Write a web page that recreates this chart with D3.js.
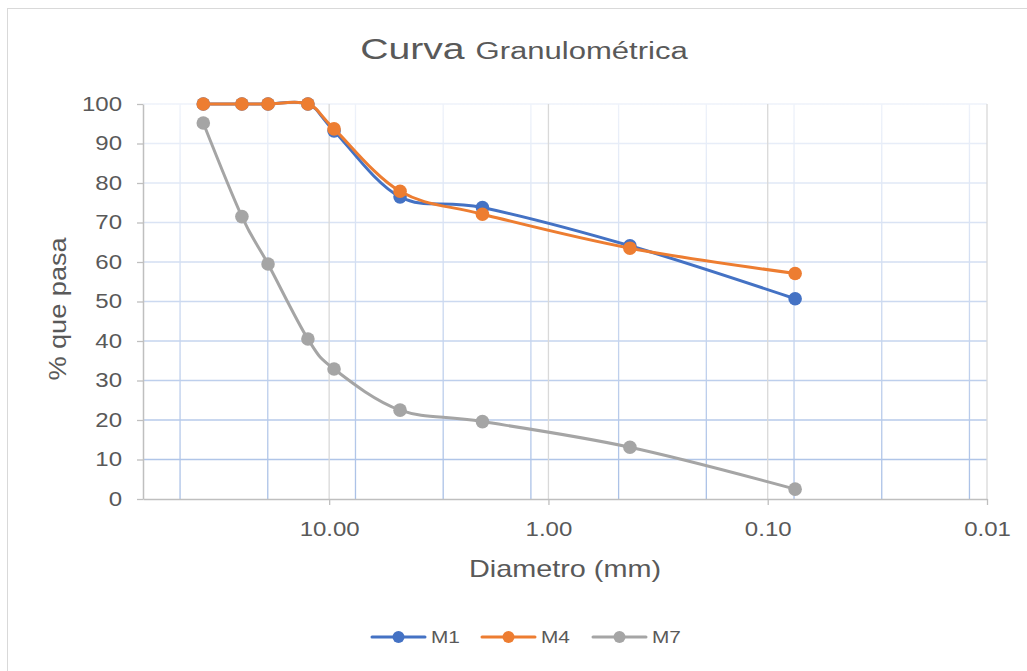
<!DOCTYPE html>
<html><head><meta charset="utf-8">
<script src="https://cdn.jsdelivr.net/npm/d3@7"></script>
<style>body{margin:0;background:#fff;}svg{display:block;font-family:"Liberation Sans",Arial,sans-serif;}</style>
</head><body>
<svg id="c" width="1027" height="671"></svg>
<script>
// ---- data ----
const diameters = [37.5, 25, 19, 12.5, 9.5, 4.75, 2.0, 0.425, 0.075];
const m1 = [100, 100, 100, 100, 93.2, 76.5, 73.8, 64.1, 50.7];
const m4 = [100, 100, 100, 100, 93.7, 77.9, 72.1, 63.5, 57.1];
const m7 = [95.2, 71.5, 59.5, 40.5, 32.9, 22.5, 19.6, 13.1, 2.5];
const seriesNames = ["M1", "M4", "M7"];
const seriesColors = ["#4472c4", "#ed7d31", "#a5a5a5"];
const xTickValues = [10, 1, 0.1, 0.01];
const minorGridExponents = [1.68, 1.28, 0.88, 0.48, 0.08, -0.32, -0.72, -1.12, -1.52, -1.92];
const yTickValues = [0, 10, 20, 30, 40, 50, 60, 70, 80, 90, 100];
const xDomain = [Math.pow(10, 1.849), 0.01];
const yDomain = [0, 100];

const svg = d3.select("#c");
const L = 143, R = 987, T = 104, B = 499;
const x = d3.scaleLog().domain(xDomain).range([L, R]);
const y = d3.scaleLinear().domain(yDomain).range([B, T]);

function stretch(sel, k) {
  sel.each(function () {
    const len = this.getComputedTextLength();
    this.setAttribute("textLength", len * k);
    this.setAttribute("lengthAdjust", "spacingAndGlyphs");
  });
}

// border
svg.append("rect").attr("x", 7.5).attr("y", 8.5).attr("width", 1030).attr("height", 680)
  .attr("fill", "#fff").attr("stroke", "#d9d9d9").attr("stroke-width", 1);

// gradient for blue gridlines
const defs = svg.append("defs");
const g1 = defs.append("linearGradient").attr("id", "gridGrad")
  .attr("gradientUnits", "userSpaceOnUse").attr("x1", 0).attr("y1", T).attr("x2", 0).attr("y2", B);
g1.append("stop").attr("offset", 0).attr("stop-color", "#eef2fa");
g1.append("stop").attr("offset", 1).attr("stop-color", "#a9c0e6");

// title
const title = svg.append("text").attr("x", 524).attr("y", 59).attr("text-anchor", "middle").attr("fill", "#595959");
title.append("tspan").attr("font-size", 29).text("Curva ");
title.append("tspan").attr("font-size", 23).text("Granulométrica");
stretch(title, 1.35);

// horizontal gridlines
svg.append("g").selectAll("line").data(yTickValues.filter(d => d > 0)).join("line")
  .attr("x1", L).attr("x2", R).attr("y1", d => y(d)).attr("y2", d => y(d))
  .attr("stroke", "url(#gridGrad)").attr("stroke-width", 1.3);

// minor vertical gridlines
svg.append("g").selectAll("line").data(minorGridExponents).join("line")
  .attr("x1", d => x(Math.pow(10, d))).attr("x2", d => x(Math.pow(10, d)))
  .attr("y1", T).attr("y2", B)
  .attr("stroke", "url(#gridGrad)").attr("stroke-width", 1.3);

// major vertical gridlines
svg.append("g").selectAll("line").data(xTickValues).join("line")
  .attr("x1", d => x(d)).attr("x2", d => x(d)).attr("y1", T).attr("y2", B)
  .attr("stroke", "#d9d9d9").attr("stroke-width", 1.3);

// axes
const xAxis = d3.axisBottom(x).tickValues(xTickValues).tickFormat(d3.format(".2f")).tickSize(6).tickSizeOuter(0);
const gx = svg.append("g").attr("transform", `translate(0,${B})`).call(xAxis);
gx.select(".domain").attr("stroke", "#bfbfbf").attr("stroke-width", 1.5);
gx.selectAll(".tick line").attr("stroke", "#bfbfbf").attr("stroke-width", 1.3);
gx.selectAll(".tick text").attr("fill", "#595959").attr("font-size", 20)
  .attr("font-family", "Liberation Sans, Arial, sans-serif").attr("y", 37).attr("dy", 0);
stretch(gx.selectAll(".tick text"), 1.2);

const yAxis = d3.axisLeft(y).tickValues(yTickValues).tickFormat(d3.format("d")).tickSize(6).tickSizeOuter(0);
const gy = svg.append("g").attr("transform", `translate(${L},0)`).call(yAxis);
gy.select(".domain").attr("stroke", "#bfbfbf").attr("stroke-width", 1.5);
gy.selectAll(".tick line").attr("stroke", "#bfbfbf").attr("stroke-width", 1.3);
gy.selectAll(".tick text").attr("fill", "#595959").attr("font-size", 20)
  .attr("font-family", "Liberation Sans, Arial, sans-serif").attr("x", -21);
stretch(gy.selectAll(".tick text"), 1.2);

// axis titles
const xt = svg.append("text").attr("x", 565).attr("y", 577).attr("text-anchor", "middle")
  .attr("fill", "#595959").attr("font-size", 24).text("Diametro (mm)");
stretch(xt, 1.2);
const yt = svg.append("text").attr("transform", "translate(66,309) rotate(-90)").attr("text-anchor", "middle")
  .attr("fill", "#595959").attr("font-size", 24).text("% que pasa");
stretch(yt, 1.13);

// series
const allSeries = [m1, m4, m7];
const line = d3.line().x(d => x(d[0])).y(d => y(d[1])).curve(d3.curveCardinal.tension(0));
allSeries.forEach((vals, i) => {
  const pts = diameters.map((d, j) => [d, vals[j]]);
  const g = svg.append("g");
  g.append("path").attr("d", line(pts)).attr("fill", "none")
    .attr("stroke", seriesColors[i]).attr("stroke-width", 3).attr("stroke-linejoin", "round").attr("stroke-linecap", "round");
  g.selectAll("circle").data(pts).join("circle")
    .attr("cx", d => x(d[0])).attr("cy", d => y(d[1])).attr("r", 6.8).attr("fill", seriesColors[i]);
});

// legend
const legX = [372, 482, 593];
seriesNames.forEach((n, i) => {
  const g = svg.append("g").attr("transform", `translate(${legX[i]},637)`);
  g.append("line").attr("x1", 0).attr("x2", 53).attr("y1", 0).attr("y2", 0)
    .attr("stroke", seriesColors[i]).attr("stroke-width", 3).attr("stroke-linecap", "round");
  g.append("circle").attr("cx", 26.5).attr("cy", 0).attr("r", 6).attr("fill", seriesColors[i]);
  const t = g.append("text").attr("x", 59).attr("y", 6).attr("fill", "#595959").attr("font-size", 16).text(n);
  stretch(t, 1.3);
});
</script>
</body></html>
